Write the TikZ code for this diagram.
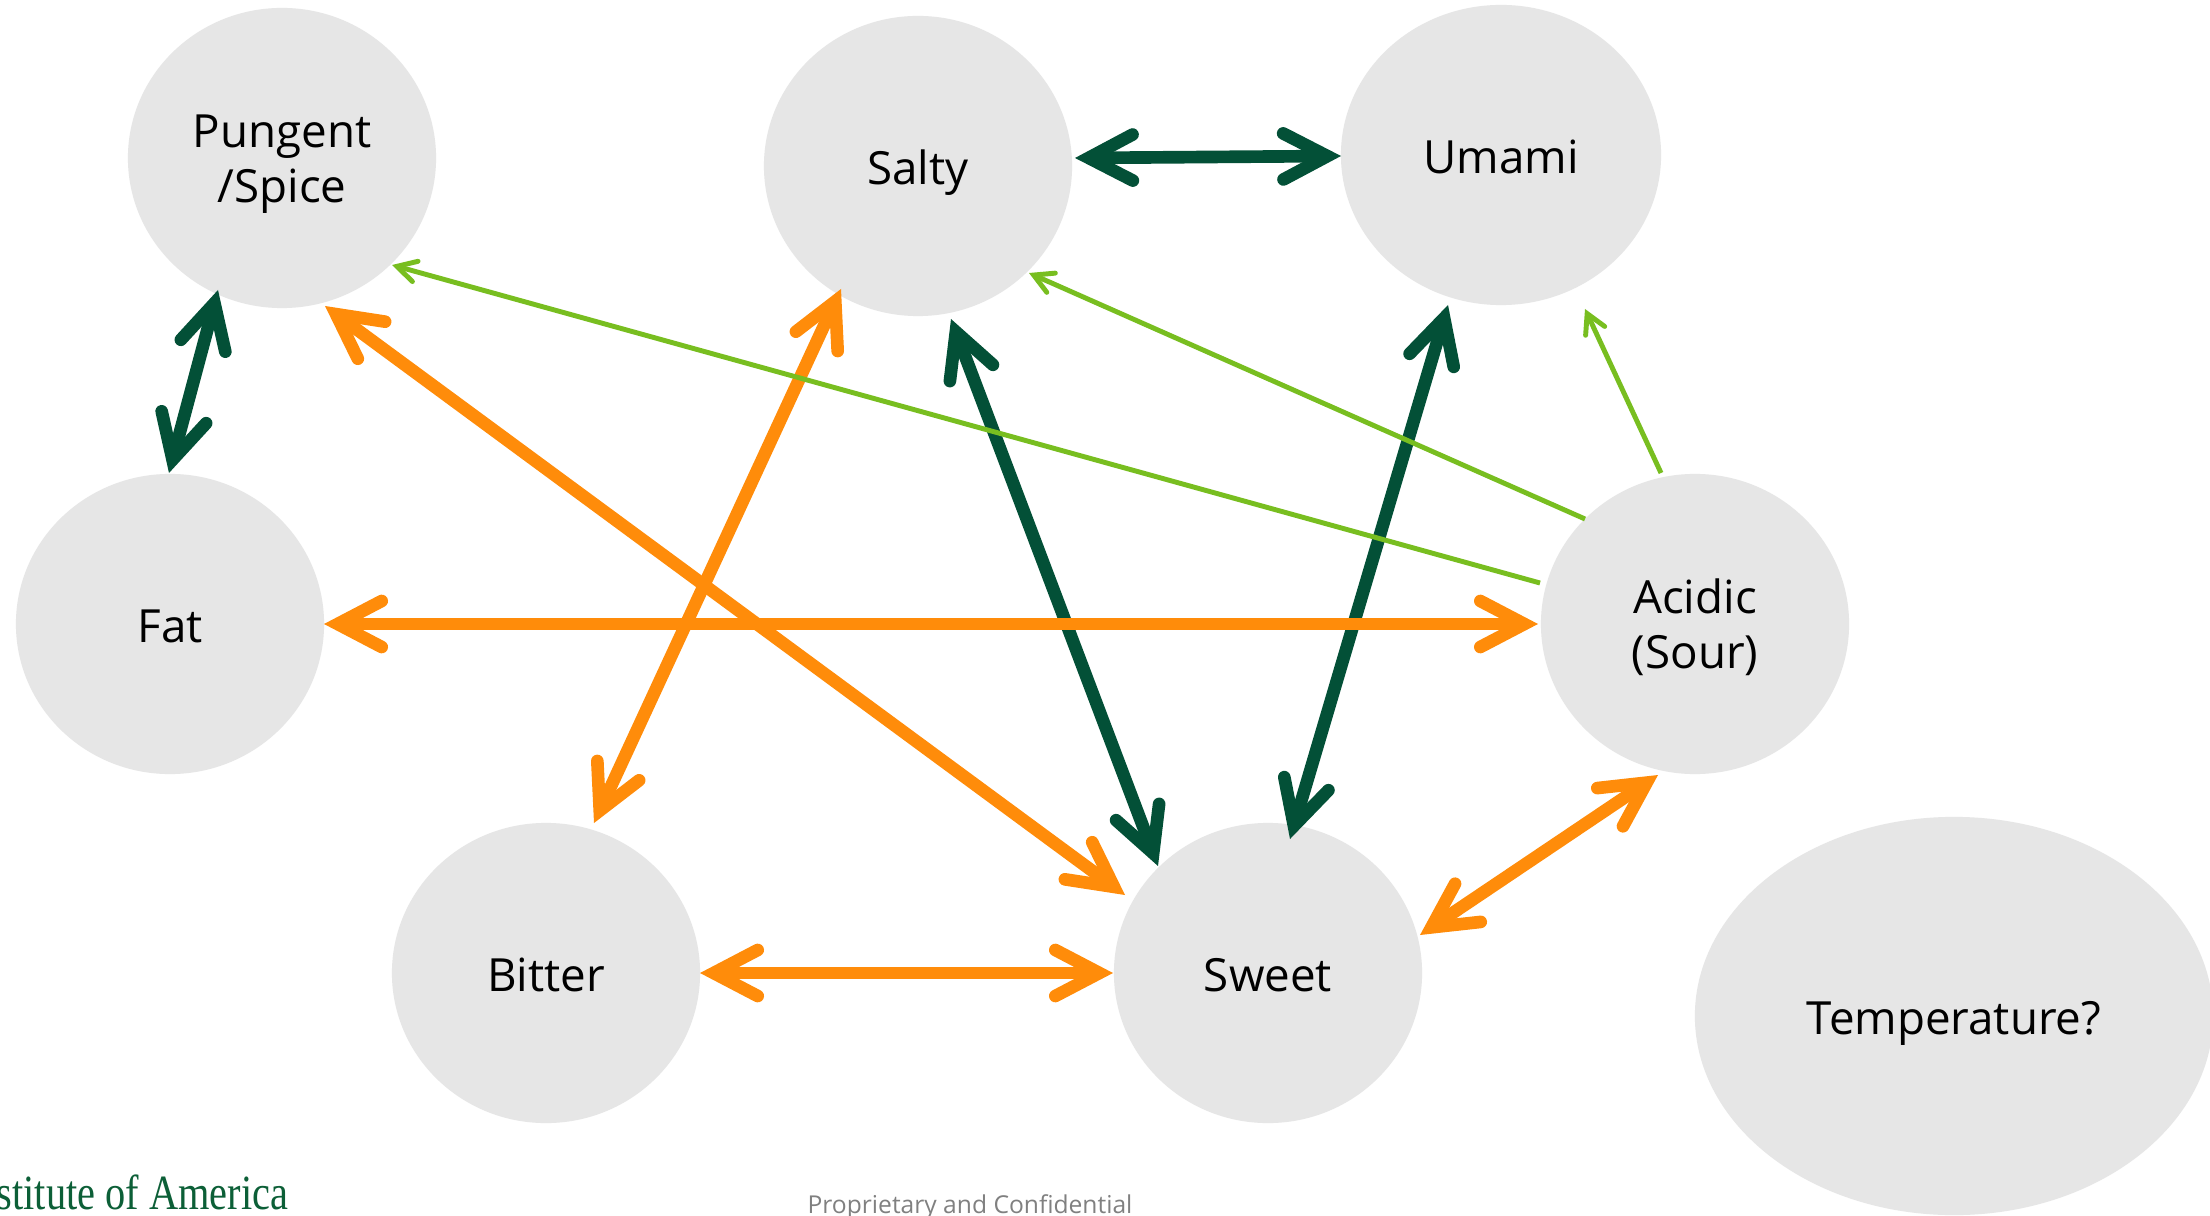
\documentclass[tikz,border=0pt]{standalone}
\usepackage{fontspec}
\setmainfont{Open Sans}
\newfontfamily\ciafont[FakeStretch=0.82]{Liberation Serif}
\usetikzlibrary{arrows.meta,shapes.geometric}
\definecolor{dkgreen}{RGB}{3,80,55}
\definecolor{orng}{RGB}{255,140,10}
\definecolor{ltgreen}{RGB}{120,190,32}
\definecolor{cgray}{RGB}{230,230,230}
\definecolor{ciagreen}{RGB}{12,95,55}
\definecolor{confgray}{RGB}{128,128,128}
\begin{document}
\begin{tikzpicture}[x=0.01cm,y=-0.01cm,
  taste/.style={shape=ellipse, fill=cgray, draw=none, minimum width=3.08cm,
    minimum height=3.0cm, inner sep=0pt, align=center, text=black,
    font=\fontsize{13}{15.6}\selectfont, text height=10.4pt, text depth=0pt},
  twoline/.style={text height=25.5pt, text depth=0pt},
  bigtip/.tip={Straight Barb[length=0.44cm,width=0.46cm,line cap=round,line join=miter]},
  smalltip/.tip={Straight Barb[length=0.19cm,width=0.21cm,line cap=round,line join=miter]},
  big/.style={line width=3.6pt, arrows={bigtip-bigtip}},
  dg/.style={big, draw=dkgreen},
  og/.style={big, draw=orng},
  lg/.style={line width=1.4pt, draw=ltgreen, arrows={-smalltip}}]
\path[fill=white] (0,0) rectangle (2210,1216);
\useasboundingbox (0,0) rectangle (2210,1216);

\node[taste, twoline] (pung) at (282,158) {Pungent\\/Spice};
\node[taste] (salty) at (918,166) {Salty};
\node[taste, minimum width=3.2cm] (umami) at (1501,155) {Umami};
\node[taste] (fat) at (170,624) {Fat};
\node[taste, twoline] (acid) at (1695,624) {Acidic\\(Sour)};
\node[taste] (bitter) at (546,973) {Bitter};
\node[taste] (sweet) at (1268,973) {Sweet};
\node[taste, minimum width=5.18cm, minimum height=3.98cm] (temp) at (1954,1016) {Temperature?};

\draw[dg] ([shift={(157,-8)}]salty.center) -- ([shift={(-160,1)}]umami.center);
\draw[dg] ([shift={(-64,132)}]pung.center) -- ([shift={(-1,-151)}]fat.center);
\draw[dg] ([shift={(33,153)}]salty.center) -- ([shift={(-110,-107)}]sweet.center);
\draw[dg] ([shift={(-53,150)}]umami.center) -- ([shift={(22,-134)}]sweet.center);
\draw[og] ([shift={(43,148)}]pung.center) -- ([shift={(-143,-78)}]sweet.center);
\draw[og] ([shift={(-77,123)}]salty.center) -- ([shift={(48,-150)}]bitter.center);
\draw[og] ([shift={(154,0)}]fat.center) -- ([shift={(-157,0)}]acid.center);
\draw[og] ([shift={(154,0)}]bitter.center) -- ([shift={(-155,0)}]sweet.center);
\draw[og] ([shift={(152,-38)}]sweet.center) -- ([shift={(-37,151)}]acid.center);
\draw[lg] ([shift={(-155,-41)}]acid.center) -- ([shift={(110,107)}]pung.center);
\draw[lg] ([shift={(-110,-105)}]acid.center) -- ([shift={(111,107)}]salty.center);
\draw[lg] ([shift={(-34,-151)}]acid.center) -- ([shift={(84,154)}]umami.center);

\node[anchor=base west, inner sep=0pt, text=ciagreen,
  font=\ciafont\fontsize{14}{16}\selectfont] (cia) at (-4,1209) {stitute of America};
\node[anchor=base, inner sep=0pt, text=confgray,
  font=\fontsize{7}{8}\selectfont] (conf) at (970,1213) {Proprietary and Confidential};
\end{tikzpicture}
\end{document}
